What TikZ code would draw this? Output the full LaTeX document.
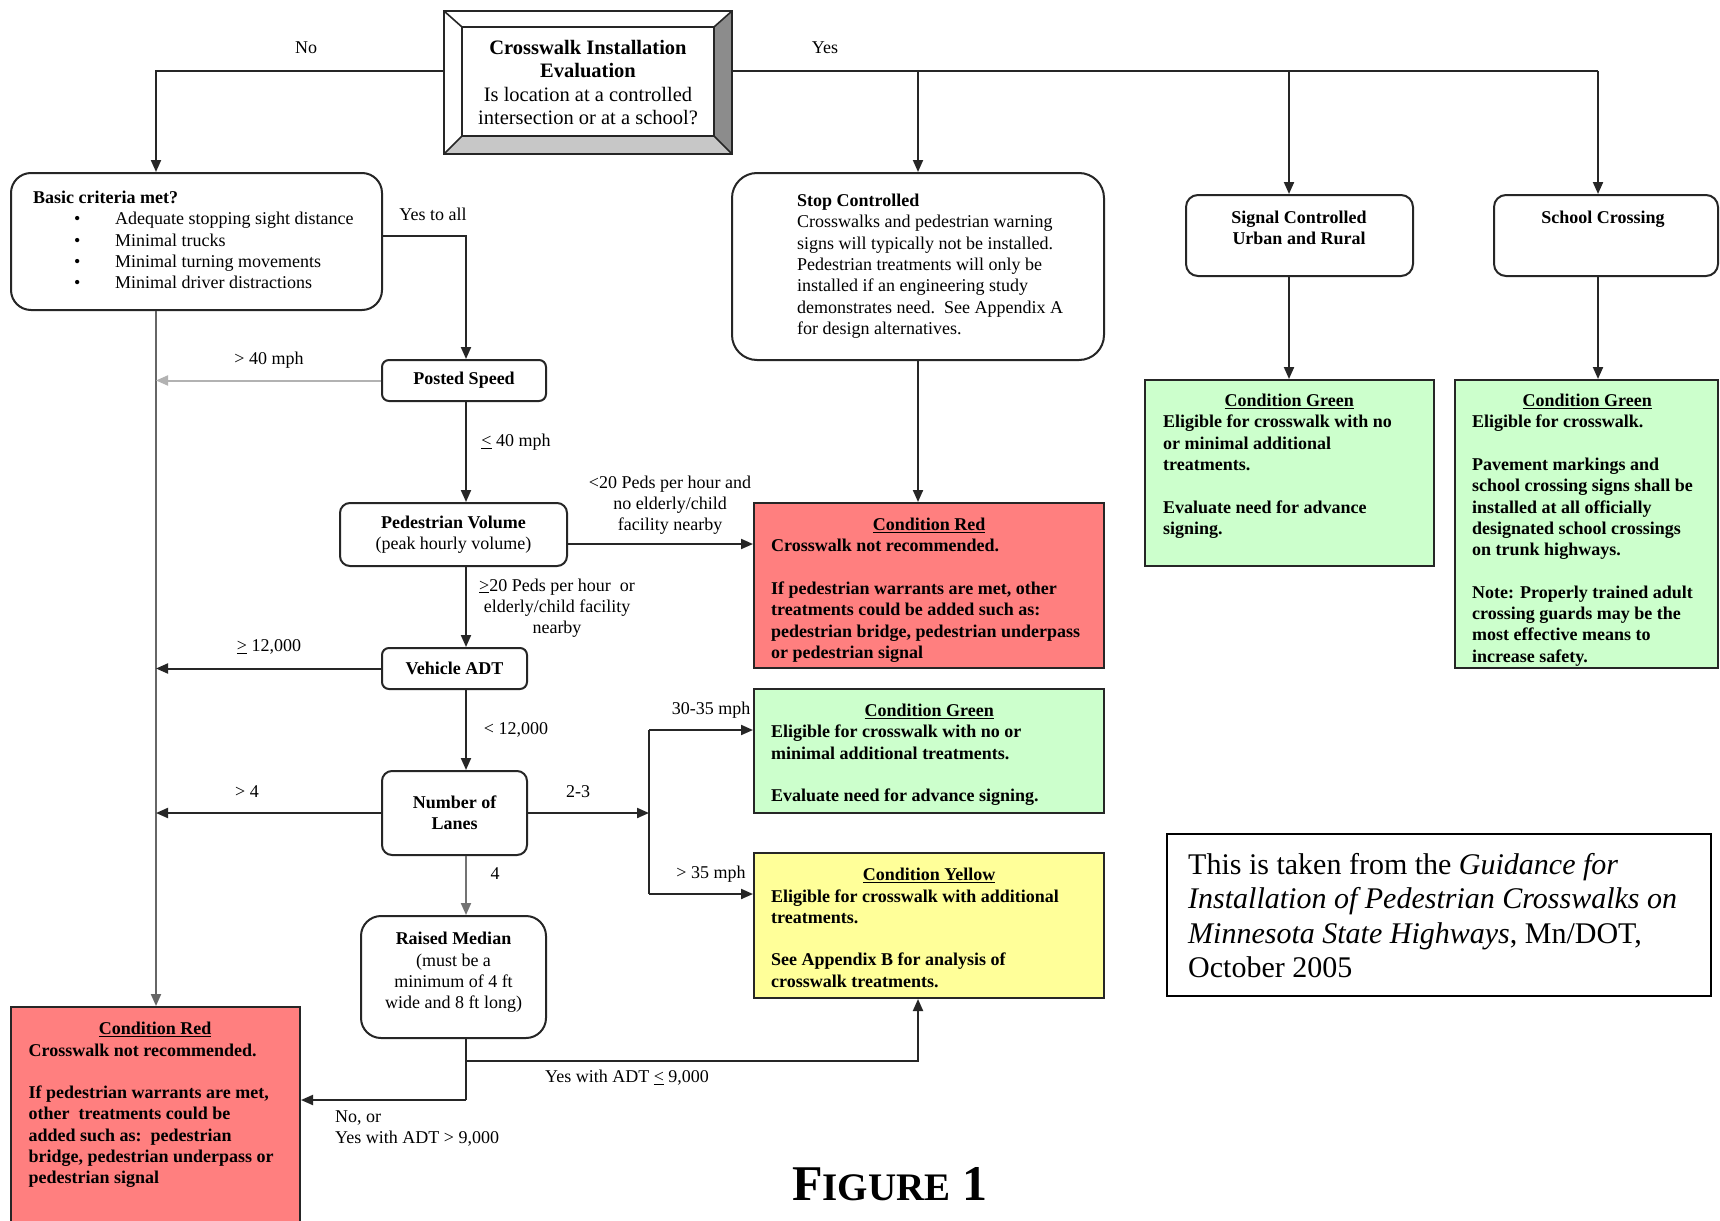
\documentclass[tikz,border=0pt]{standalone}
\usepackage{fontspec}
\setmainfont{Liberation Serif}
\usetikzlibrary{arrows.meta}
\newcommand\fs{\fontsize{18}{21.3}\selectfont}
\definecolor{cred}{HTML}{FF7F7F}
\definecolor{cgreen}{HTML}{CCFFCC}
\definecolor{cyellow}{HTML}{FFFF99}
\begin{document}
\begin{tikzpicture}[x=1pt,y=-1pt,
  conn/.style={line width=2pt, draw=black!85},
  arr/.style={conn, -{Triangle[length=12pt,width=10pt]}},
  rbox/.style={draw=black!85, line width=2pt, rounded corners=#1, fill=white, inner sep=0},
  cbox/.style={draw=black!85, line width=2pt, inner sep=0, fill=#1},
  lbl/.style={font=\fs, inner sep=0, align=center},
  txt/.style={font=\fs, inner sep=0, align=left, anchor=north west},
  btxt/.style={font=\fs\bfseries, inner sep=0, align=left, anchor=north west}]
\useasboundingbox[fill=white] (0,0) rectangle (1720,1220);

% ---- top bevelled box
\fill[white] (444,11) rectangle (732,154);
\fill[black!45] (732,11) -- (732,154) -- (714,136) -- (714,27) -- cycle;
\fill[black!22] (444,154) -- (732,154) -- (714,136) -- (462,136) -- cycle;
\draw[line width=1.6pt, black!85] (444,11) rectangle (732,154) (462,27) rectangle (714,136)
  (444,11) -- (462,27) (732,11) -- (714,27) (444,154) -- (462,136) (732,154) -- (714,136);
\node[minimum width=288pt, minimum height=143pt, inner sep=0, align=center,
  font=\fontsize{20.5}{23.3}\selectfont] (top) at (588,82.5)
  {\textbf{Crosswalk Installation}\\\textbf{Evaluation}\\Is location at a controlled\\intersection or at a school?};

% ---- left column boxes
\node[rbox=20pt, minimum width=371pt, minimum height=137pt] (basic) at (196.5,241.5) {};
\node[txt] at (33,191) {\textbf{Basic criteria met?}\\
  \hspace*{41pt}\makebox[41pt][l]{\textbullet}Adequate stopping sight distance\\
  \hspace*{41pt}\makebox[41pt][l]{\textbullet}Minimal trucks\\
  \hspace*{41pt}\makebox[41pt][l]{\textbullet}Minimal turning movements\\
  \hspace*{41pt}\makebox[41pt][l]{\textbullet}Minimal driver distractions};

\node[rbox=7pt, minimum width=164pt, minimum height=41pt, font=\fs\bfseries] (ps) at (464,380.5) {Posted Speed};
\node[rbox=10pt, minimum width=227pt, minimum height=63pt, font=\fs, align=center] (pv) at (453.5,534.5) {\textbf{Pedestrian Volume}\\(peak hourly volume)};
\node[rbox=7pt, minimum width=145pt, minimum height=41pt, font=\fs\bfseries] (adt) at (454.5,668.5) {Vehicle ADT};
\node[rbox=10pt, minimum width=145pt, minimum height=84pt, font=\fs\bfseries, align=center] (lanes) at (454.5,813) {Number of\\Lanes};
\node[rbox=20pt, minimum width=185pt, minimum height=122pt] (rm) at (453.5,977) {};
\node[lbl, anchor=north] at (453.5,932) {\textbf{Raised Median}\\(must be a\\minimum of 4 ft\\wide and 8 ft long)};

\node[cbox=cred, minimum width=289pt, minimum height=218pt] (r2) at (155.5,1116) {};
\node[btxt] at (28.5,1022) {\makebox[253pt]{\underline{Condition Red}}\\Crosswalk not recommended.\\[21.3pt]If pedestrian warrants are met,\\other\ \ treatments could be\\added such as:\ \ pedestrian\\bridge, pedestrian underpass or\\pedestrian signal};

% ---- middle column
\node[rbox=25pt, minimum width=372pt, minimum height=187pt] (sc) at (918,266.5) {};
\node[txt] at (797,194) {\textbf{Stop Controlled}\\Crosswalks and pedestrian warning\\signs will typically not be installed.\\Pedestrian treatments will only be\\installed if an engineering study\\demonstrates need.\ \ See Appendix A\\for design alternatives.};

\node[cbox=cred, minimum width=350pt, minimum height=165pt] (r1) at (929,585.5) {};
\node[btxt] at (771,518) {\makebox[316pt]{\underline{Condition Red}}\\Crosswalk not recommended.\\[21.3pt]If pedestrian warrants are met, other\\treatments could be added such as:\\pedestrian bridge, pedestrian underpass\\or pedestrian signal};

\node[cbox=cgreen, minimum width=350pt, minimum height=124pt] (g1) at (929,751) {};
\node[btxt] at (771,704) {\makebox[316pt]{\underline{Condition Green}}\\Eligible for crosswalk with no or\\minimal additional treatments.\\[21.3pt]Evaluate need for advance signing.};

\node[cbox=cyellow, minimum width=350pt, minimum height=145pt] (y1) at (929,925.5) {};
\node[btxt] at (771,868) {\makebox[316pt]{\underline{Condition Yellow}}\\Eligible for crosswalk with additional\\treatments.\\[21.3pt]See Appendix B for analysis of\\crosswalk treatments.};

% ---- right columns
\node[rbox=12pt, minimum width=227pt, minimum height=81pt] (sg) at (1299.5,235.5) {};
\node[lbl, anchor=north, font=\fs\bfseries] at (1299,211) {Signal Controlled\\Urban and Rural};
\node[rbox=12pt, minimum width=224pt, minimum height=81pt] (sch) at (1606,235.5) {};
\node[lbl, anchor=north, font=\fs\bfseries] at (1603,211) {School Crossing};

\node[cbox=cgreen, minimum width=289pt, minimum height=186pt] (g2) at (1289.5,473) {};
\node[btxt] at (1163,394) {\makebox[252pt]{\underline{Condition Green}}\\Eligible for crosswalk with no\\or minimal additional\\treatments.\\[21.3pt]Evaluate need for advance\\signing.};

\node[cbox=cgreen, minimum width=263pt, minimum height=288pt] (g3) at (1586.5,524) {};
\node[btxt] at (1472,394) {\makebox[230pt]{\underline{Condition Green}}\\Eligible for crosswalk.\\[21.3pt]Pavement markings and\\school crossing signs shall be\\installed at all officially\\designated school crossings\\on trunk highways.\\[21.3pt]Note: Properly trained adult\\crossing guards may be the\\most effective means to\\increase safety.};

% ---- citation & caption
\node[draw=black, line width=1.8pt, minimum width=544pt, minimum height=162pt, inner sep=0] (cite) at (1439,915) {};
\node[txt, font=\fontsize{30}{34.5}\selectfont] at (1188,853) {This is taken from the \textit{Guidance for}\\\textit{Installation of Pedestrian Crosswalks on}\\\textit{Minnesota State Highways}, Mn/DOT,\\October 2005};
\node[anchor=base, inner sep=0, font=\fontsize{50}{50}\selectfont\bfseries] (fig) at (890,1200) {F{\fontsize{39}{39}\selectfont IGURE} 1};

% ---- junction coordinates
\coordinate (jL) at (156,71);
\coordinate (jsc) at (918,71);
\coordinate (jsg) at (1289,71);
\coordinate (jsch) at (1598,71);
\coordinate (C) at (466,236);
\coordinate (Sg) at (649,730);
\coordinate (Sy) at (649,894);
\coordinate (S) at (649,813);
\coordinate (R1) at (466,1061);
\coordinate (R2) at (466,1100);

% ---- connectors
\draw[arr] ([yshift=11.5pt]top.west) -| (jL |- basic.north);
\draw[conn] ([yshift=11.5pt]top.east) -- (jsch);
\draw[arr] (jsc) -- (sc.north);
\draw[arr] (jsg) -- (jsg |- sg.north);
\draw[arr] (jsch) -- (jsch |- sch.north);
\draw[arr] (jsg |- sg.south) -- (jsg |- g2.north);
\draw[arr] (jsch |- sch.south) -- (jsch |- g3.north);

\draw[arr, draw=black!60] (jL |- basic.south) -- (jL |- r2.north);
\draw[arr] (basic.east |- C) -- (C) -- (C |- ps.north);
\draw[arr] (C |- ps.south) -- (C |- pv.north);
\draw[arr] (C |- pv.south) -- (C |- adt.north);
\draw[arr] (C |- adt.south) -- (C |- lanes.north);
\draw[arr, draw=black!55] (C |- lanes.south) -- (C |- rm.north);
\draw[arr, draw=black!30] (ps.west) -- (jL |- ps.west);
\draw[arr] (adt.west) -- (jL |- adt.west);
\draw[arr] (lanes.west) -- (jL |- lanes.west);
\draw[arr] ([yshift=-9.5pt]pv.east) -- ([yshift=-9.5pt]pv.east -| r1.west);
\draw[arr] (sc.south) -- (sc.south |- r1.north);
\draw[arr] (lanes.east) -- (S);
\draw[conn] (Sg) -- (Sy);
\draw[arr] (Sg) -- (Sg -| g1.west);
\draw[arr] (Sy) -- (Sy -| y1.west);
\draw[conn] (C |- rm.south) -- (R2);
\draw[arr] (R2) -- (R2 -| r2.east);
\draw[arr] (R1) -| (jsc |- y1.south);

% ---- labels
\node[lbl] at (306,48) {No};
\node[lbl] at (825,48) {Yes};
\node[lbl] at (433,214) {Yes to all};
\node[lbl] at (269,360) {> 40 mph};
\node[lbl] at (516,442) {\underline{<} 40 mph};
\node[lbl] at (670,505) {<20 Peds per hour and\\no elderly/child\\facility nearby};
\node[lbl] at (557,608) {\underline{>}20 Peds per hour\ \ or\\elderly/child facility\\nearby};
\node[lbl] at (269,647) {\underline{>} 12,000};
\node[lbl] at (516,730) {< 12,000};
\node[lbl] at (247,792) {> 4};
\node[lbl] at (578,792) {2-3};
\node[lbl] at (495,874) {4};
\node[lbl] at (711,710) {30-35 mph};
\node[lbl] at (711,874) {> 35 mph};
\node[lbl] at (627,1078) {Yes with ADT \underline{<} 9,000};
\node[lbl, align=left, anchor=north west] at (335,1110) {No, or\\Yes with ADT > 9,000};
\end{tikzpicture}
\end{document}
